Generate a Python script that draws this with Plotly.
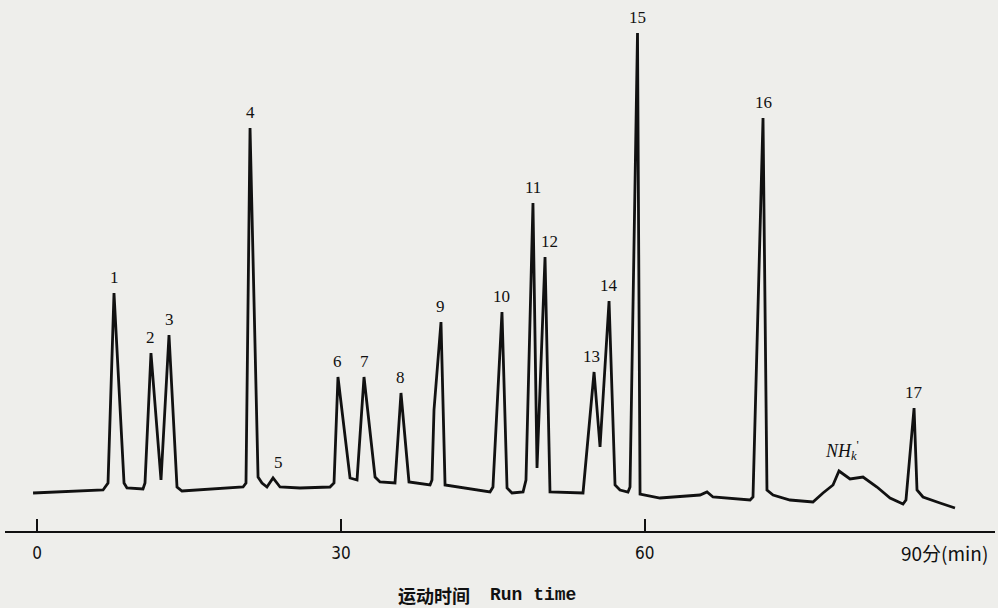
import plotly.graph_objects as go

# Chromatogram trace vertices (time in min, detector response in arbitrary units)
run_time = [-0.39, 6.52, 7.01, 7.60, 8.59, 8.88, 10.46, 10.66, 11.25, 12.24, 13.03, 13.82, 14.31,
            20.34, 20.63, 21.03, 21.82, 22.21, 22.70, 23.30, 23.99, 25.96, 28.92, 29.32, 29.71,
            30.90, 31.59, 32.28, 33.37, 33.86, 35.34, 35.93, 36.72, 38.80, 38.99, 39.19, 39.88,
            40.28, 44.72, 45.01, 45.90, 46.40, 46.89, 47.98, 48.27, 48.96, 49.36, 50.15, 50.64,
            53.90, 54.99, 55.58, 56.47, 57.06, 57.55, 58.34, 58.54, 59.28, 59.53, 61.50, 65.45,
            66.14, 66.73, 70.39, 70.68, 71.67, 72.06, 72.66, 74.33, 76.60, 77.59, 78.58, 79.17,
            80.26, 81.54, 82.92, 84.21, 85.49, 85.78, 86.58, 86.87, 87.46, 89.14, 90.62]
response = [0, 3, 10, 200, 10, 5, 4, 10, 140, 13, 158, 6, 2,
            6, 10, 365, 16, 10, 6, 15, 6, 5, 6, 10, 116,
            15, 13, 116, 16, 11, 10, 100, 11, 8, 13, 83, 171,
            8, 1, 6, 181, 5, 0, 1, 13, 290, 25, 236, 1,
            0, 121, 46, 192, 8, 3, 1, 6, 460, -1, -5, -2,
            1, -4, -7, -4, 375, 3, -2, -7, -9, 0, 8, 22,
            14, 16, 6, -5, -11, -7, 85, 3, -4, -10, -15]

# Numbered peaks: label, retention time (min), apex response
peak_labels = ["1", "2", "3", "4", "5", "6", "7", "8", "9", "10", "11", "12", "13", "14", "15", "16", "17"]
peak_times = [7.60, 11.25, 13.03, 21.03, 23.30, 29.71, 32.28, 35.93, 39.88, 45.90, 48.96, 50.15,
              54.99, 56.47, 59.28, 71.67, 86.58]
peak_heights = [200, 140, 158, 365, 15, 116, 116, 100, 171, 181, 290, 236, 121, 192, 460, 375, 85]

# Ammonia hump
nh_time = 79.17
nh_height = 22

x_ticks = [0, 30, 60]
x_tick_text = ["0", "30", "60"]
x_end_label = "90分(min)"
x_title_cn = "运动时间"
x_title_en = "Run time"

label_xshift = {"5": 5, "12": 4, "13": -3}

fig = go.Figure()
fig.add_trace(go.Scatter(
    x=run_time, y=response, mode="lines",
    line=dict(color="#111111", width=2.8),
    hoverinfo="skip", showlegend=False))

serif = "Liberation Serif, Times New Roman, serif"
for lab, t, h in zip(peak_labels, peak_times, peak_heights):
    fig.add_annotation(x=t, y=h, text=lab, showarrow=False, yanchor="bottom",
                       yshift=4, xshift=label_xshift.get(lab, 0),
                       font=dict(family=serif, size=17, color="#111111"))

fig.add_annotation(x=nh_time, y=nh_height, text="<i>NH</i><sub><i>k</i></sub><sup>'</sup>",
                   showarrow=False, yanchor="bottom", yshift=6, xshift=3,
                   font=dict(family=serif, size=18, color="#111111"))

fig.add_annotation(x=89.6, y=(531 - 552) / 521, xref="x", yref="paper", text=x_end_label,
                   showarrow=False, yanchor="middle",
                   font=dict(family="Noto Sans CJK SC, sans-serif", size=19, color="#111111"))

fig.add_annotation(x=(434 - 5) / 990, y=(531 - 595) / 521, xref="paper", yref="paper",
                   text="<b>" + x_title_cn + "</b>", showarrow=False, yanchor="middle",
                   font=dict(family="Noto Sans CJK SC, sans-serif", size=18, color="#111111"))
fig.add_annotation(x=(533 - 5) / 990, y=(531 - 595) / 521, xref="paper", yref="paper",
                   text="<b>" + x_title_en + "</b>", showarrow=False, yanchor="middle",
                   font=dict(family="Liberation Mono, DejaVu Sans Mono, monospace", size=18, color="#111111"))

fig.update_layout(
    width=998, height=608,
    margin=dict(l=5, r=3, t=10, b=77),
    paper_bgcolor="#eeeeeb", plot_bgcolor="#eeeeeb",
    xaxis=dict(range=[-3.16, 94.57], showgrid=False, zeroline=False,
               showline=True, linecolor="#111111", linewidth=2,
               ticks="inside", ticklen=12, tickwidth=2, tickcolor="#111111",
               tickvals=x_ticks, ticktext=x_tick_text, ticklabelstandoff=6,
               tickfont=dict(family="DejaVu Sans Condensed, Noto Sans, sans-serif", size=17, color="#111111")),
    yaxis=dict(range=[-38, 483], visible=False, showgrid=False, zeroline=False),
)

fig.write_html("out.html", config={"displayModeBar": False},
               post_script="document.body.style.margin='0';document.body.style.background='#eeeeeb';")
